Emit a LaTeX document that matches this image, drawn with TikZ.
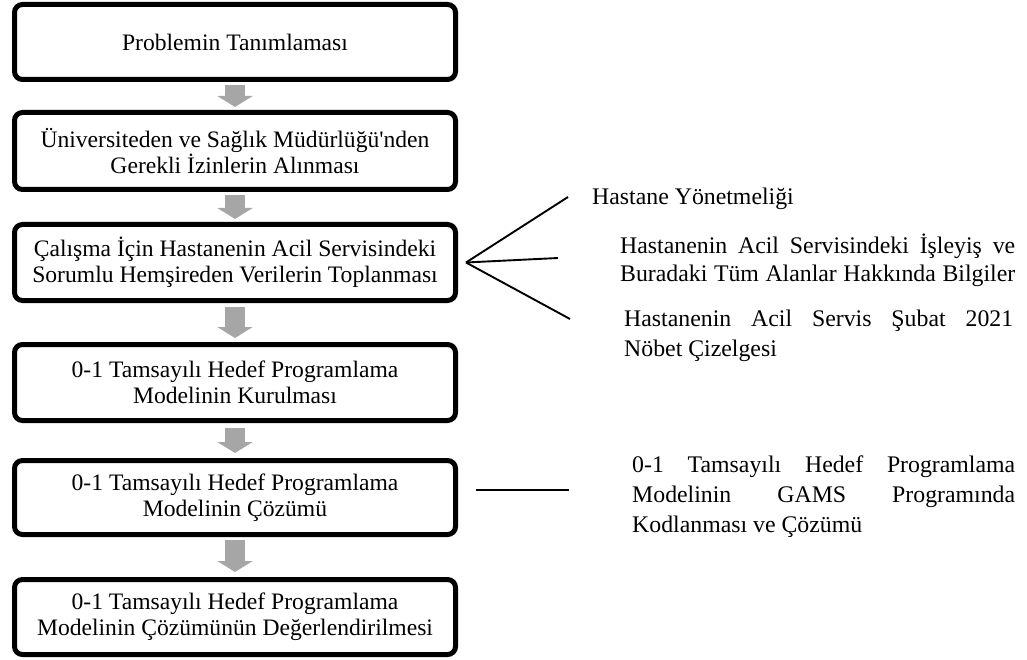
\documentclass[tikz,border=0pt]{standalone}
\usepackage{fontspec}
\setmainfont{Liberation Serif}
\usetikzlibrary{arrows.meta}
\definecolor{arrowgray}{HTML}{A6A6A6}
\begin{document}
\begin{tikzpicture}[x=1pt,y=-1pt,
  stepbox/.style={draw=black, line width=5pt, rounded corners=8pt,
    minimum width=441pt, minimum height=76pt, align=center, inner sep=0pt,
    font=\fontsize{23.6}{26}\selectfont},
  flowarrow/.style={draw=arrowgray, line width=20pt,
    -{Triangle[width=35pt,length=11pt]}},
  fanline/.style={draw=black, line width=1.9pt},
  sidetext/.style={anchor=base west, inner sep=0pt, font=\fontsize{23.8}{26}\selectfont}]
\useasboundingbox (0,0) rectangle (1027,660);

% boxes
\node[stepbox, minimum height=75pt] (b1) at (235,42) {Problemin Tanımlaması};
\node[stepbox, minimum height=77pt] (b2) at (235,151) {Üniversiteden ve Sağlık Müdürlüğü\textquotesingle nden\\Gerekli İzinlerin Alınması};
\node[stepbox] (b3) at (235,262.5) {Çalışma İçin Hastanenin Acil Servisindeki\\Sorumlu Hemşireden Verilerin Toplanması};
\node[stepbox] (b4) at (235,382.5) {0-1 Tamsayılı Hedef Programlama\\Modelinin Kurulması};
\node[stepbox, minimum height=74pt] (b5) at (235,497.5) {0-1 Tamsayılı Hedef Programlama\\Modelinin Çözümü};
\node[stepbox, minimum height=75pt] (b6) at (235,617) {0-1 Tamsayılı Hedef Programlama\\Modelinin Çözümünün Değerlendirilmesi};

% block arrows
\draw[flowarrow] ([yshift=-3pt]b1.south) -- ([yshift=3pt]b2.north);
\draw[flowarrow] ([yshift=-3pt]b2.south) -- ([yshift=3pt]b3.north);
\draw[flowarrow] ([yshift=-4pt]b3.south) -- ([yshift=4pt]b4.north);
\draw[flowarrow] ([yshift=-5pt]b4.south) -- ([yshift=5pt]b5.north);
\draw[flowarrow] ([yshift=-3pt]b5.south) -- ([yshift=5pt]b6.north);

% side texts
\node[sidetext] (t1) at (592,205) {Hastane Yönetmeliği};
\node[sidetext] (t2a) at (620,254) {\makebox[395pt][s]{Hastanenin Acil Servisindeki İşleyiş ve}};
\node[sidetext] (t2b) at (620,281) {\makebox[395pt][s]{Buradaki Tüm Alanlar Hakkında Bilgiler}};
\node[sidetext] (t3a) at (624,326) {\makebox[389pt][s]{Hastanenin Acil Servis Şubat 2021}};
\node[sidetext] (t3b) at (624,356) {Nöbet Çizelgesi};
\node[sidetext] (t4a) at (632,472) {\makebox[383pt][s]{0-1 Tamsayılı Hedef Programlama}};
\node[sidetext] (t4b) at (632,502) {\makebox[383pt][s]{Modelinin GAMS Programında}};
\node[sidetext] (t4c) at (632,532) {Kodlanması ve Çözümü};

% fan connectors
\coordinate (fan) at ([xshift=8pt]b3.east);
\coordinate (e1) at (568,197);
\coordinate (e2) at (558,258);
\coordinate (e3) at (570,319);
\draw[fanline] (fan) -- (e1);
\draw[fanline] (fan) -- (e2);
\draw[fanline] (fan) -- (e3);

% single connector
\coordinate (s1) at (476,490);
\coordinate (s2) at (569,490);
\draw[fanline] (s1) -- (s2);
\end{tikzpicture}
\end{document}
